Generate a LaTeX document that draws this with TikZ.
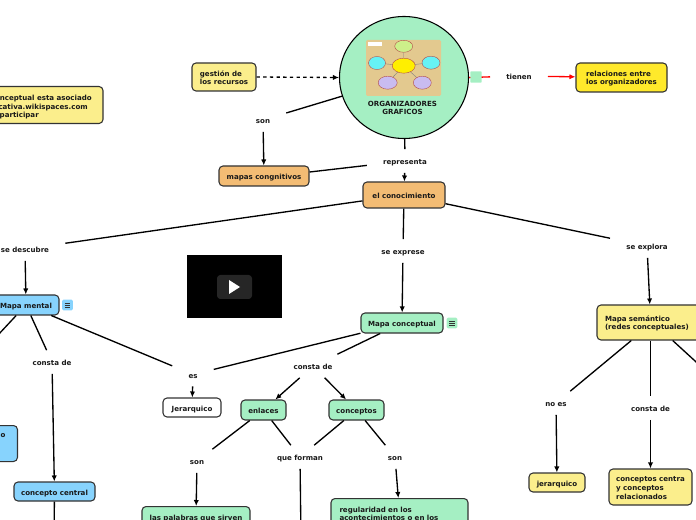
\documentclass[tikz,border=0pt]{standalone}
\usepackage{fontspec}
\setmainfont{DejaVu Sans}
\usetikzlibrary{arrows.meta,shapes.geometric}
\definecolor{cyel}{HTML}{FBEE8C}
\definecolor{cbri}{HTML}{FFE92B}
\definecolor{cora}{HTML}{F3BC74}
\definecolor{cgre}{HTML}{A5EFC3}
\definecolor{cblu}{HTML}{87D3FD}
\definecolor{cdark}{HTML}{333333}
\definecolor{ctan}{HTML}{E3C98F}
\definecolor{cell1}{HTML}{CDF08A}
\definecolor{cell2}{HTML}{66F2F5}
\definecolor{cell3}{HTML}{FFEF00}
\definecolor{cell4}{HTML}{C9BCF0}
\newcommand{\firstl}{\rule{0pt}{5.5pt}}
\tikzset{
  txt/.style={font=\bfseries\fontsize{5.3}{6.5}\selectfont, text=black!90},
  one/.style={text height=7pt, text depth=1.3pt},
  bx/.style n args={2}{txt, draw=cdark, line width=0.8pt, rounded corners=3pt, inner xsep=0pt, inner ysep=0pt,
     minimum width=#1*0.75pt, minimum height=#2*0.75pt},
  lab/.style={txt, one, inner xsep=12pt, inner ysep=4.5pt},
  conn/.style={line width=1pt, black},
  arr/.style={conn, -{Latex[length=4.5pt,width=4pt]}},
  icon/.style={minimum size=8pt, inner sep=0pt, rounded corners=1pt},
  blob/.style={draw=red!40!gray, line width=0.3pt},
  cut/.style={txt, one, anchor=east, inner sep=0pt},
}
\newcommand{\menuicon}[1]{\draw[line width=0.45pt,cdark] ([xshift=-2pt,yshift=1.6pt]#1.center)--++(4pt,0) ([xshift=-2pt]#1.center)--++(4pt,0) ([xshift=-2pt,yshift=-1.6pt]#1.center)--++(4pt,0);}
\begin{document}
\begin{tikzpicture}[x=0.75pt,y=-0.75pt]
\useasboundingbox (0,0) rectangle (696,520);
\clip (0,0) rectangle (696,520);

% central topic
\node[ellipse, draw=black, fill=cgre, line width=0.8pt, minimum width=129*0.75pt, minimum height=122*0.75pt, inner sep=0pt] (org) at (404,77.5) {};
\fill[ctan, rounded corners=1pt] (366,40) rectangle (441,96);
\fill[white] (368,42) rectangle (382,46);
\draw[gray,line width=0.3pt] (403.7,65.7)--(377,63) (403.7,65.7)--(431,62.7) (403.7,65.7)--(387.7,82.7) (403.7,65.7)--(422.3,82.7) (403.7,65.7)--(403.7,46.3);
\filldraw[blob,fill=cell1] (403.7,46.3) ellipse (9 and 6);
\filldraw[blob,fill=cell2] (377,63) ellipse (8.5 and 6.5);
\filldraw[blob,fill=cell3] (403.7,65.7) ellipse (11.5 and 7.5);
\filldraw[blob,fill=cell2] (431,62.7) ellipse (9 and 6.5);
\filldraw[blob,fill=cell4] (387.7,82.7) ellipse (9.5 and 6.5);
\filldraw[blob,fill=cell4] (422.3,82.7) ellipse (9 and 6.5);
\node[txt, align=center] (orgt) at (402.5,107) {\firstl ORGANIZADORES\\GRAFICOS};

% boxes
\node[bx={64}{28}, fill=cyel, align=left] (gest) at (224,77) {\firstl gestión de\\los recursos};
\node[bx={91}{29}, fill=cbri, align=left] (rel) at (621.5,77.5) {\firstl relaciones entre\\los organizadores};
\node[bx={90}{20}, one, fill=cora] (mapc) at (264,176) {mapas congnitivos};
\node[bx={82}{26}, one, fill=cora] (con) at (404,195) {el conocimiento};
\node[bx={66}{20}, one, fill=cblu] (mm) at (26,305) {Mapa mental};
\node[bx={82}{20}, one, fill=cgre] (mcon) at (402,323) {Mapa conceptual};
\node[bx={112}{35}, fill=cyel, text width=72pt, inner xsep=6pt, align=left] (msem) at (653,322.5) {\firstl Mapa semántico\\(redes conceptuales)};
\node[bx={58}{19}, one, fill=white] (jer1) at (192,407.5) {Jerarquico};
\node[bx={45}{20}, one, fill=cgre] (enl) at (263.5,410) {enlaces};
\node[bx={55}{20}, one, fill=cgre] (cps) at (356.5,410) {conceptos};
\node[bx={81}{19}, one, fill=cblu] (cc) at (54.5,491.5) {concepto central};
\node[bx={56}{19}, one, fill=cyel] (jer2) at (557,482.5) {jerarquico};
\node[bx={83}{36}, fill=cyel, align=left] (cpr) at (650.5,487) {\firstl conceptos centra\\y conceptos\\relacionados};
\node[bx={108}{20}, one, fill=cgre, anchor=north] (pal) at (196,506) {las palabras que sirven};
\node[bx={137}{29}, fill=cgre, text width=90pt, inner xsep=6pt, align=left, anchor=north] (reg) at (399.5,498) {\firstl regularidad en los\\acontecimientos o en los};
\node[bx={48}{36}, fill=cblu, anchor=north east] (lft) at (18,425) {};
\node[txt, one] (lftt) at (3,434) {o};
\node[bx={143}{37}, fill=cyel] (note) at (31.5,105) {};
\node[cut] (n1) at (92,96.7) {conceptual esta asociado};
\node[cut] (n2) at (88,105.3) {cativa.wikispaces.com};
\node[cut] (n3) at (39,113.3) {participar};

% video
\node[fill=black, minimum width=95*0.75pt, minimum height=63*0.75pt, inner sep=0pt] (vid) at (234.5,286.5) {};
\fill[black!85!white, rounded corners=2.5pt] (217,275) rectangle (252,299);
\fill[white] (229,280) -- (240,287) -- (229,294) -- cycle;

% labels
\node[lab] (tie) at (519,76) {tienen};
\node[lab] (son1) at (263,120) {son};
\node[lab] (rep) at (405,161) {representa};
\node[lab] (sed) at (25,249) {se descubre};
\node[lab] (see) at (403,251) {se exprese};
\node[lab] (sex) at (647,246) {se explora};
\node[lab] (es) at (193,374.5) {es};
\node[lab] (cd1) at (52,362) {consta de};
\node[lab] (cd2) at (313,366) {consta de};
\node[lab] (cd3) at (650.5,408) {consta de};
\node[lab] (son2) at (197,461) {son};
\node[lab] (qf) at (300,457) {que forman};
\node[lab] (son3) at (395,457) {son};
\node[lab] (noes) at (556,403) {no es};

% free ends
\coordinate (e1) at (-30,365);
\coordinate (e2) at (54,540);
\coordinate (e3) at (301,540);
\coordinate (e4) at (718,382);

% connectors
\draw[conn, dash pattern=on 2.5pt off 2.5pt, -{Latex[length=4.5pt,width=4pt]}] (gest.east) -- (org.west);
\draw[conn, red] (org.east) -- (tie);
\node[fill=cgre, minimum size=8.5pt, inner sep=0pt, rounded corners=0.5pt] (sq) at (476,77) {};
\draw[arr, red] (tie) -- (rel);
\draw[conn] (org) -- (son1);
\draw[arr] (son1) -- (mapc);
\draw[conn] (mapc.5) -- (rep);
\draw[conn] (org) -- (rep);
\draw[arr] (rep) -- (con);
\draw[conn] (con) -- (sed);
\draw[conn] (con) -- (see);
\draw[conn] (con) -- (sex);
\draw[arr] (sed) -- (mm);
\draw[arr] (see) -- (mcon);
\draw[arr] (sex) -- (msem.100);
\draw[conn] (mm) -- (es);
\draw[conn] (mcon) -- (es);
\draw[arr] (es) -- (jer1);
\draw[conn] (mm) -- (cd1);
\draw[conn] (mm) -- (e1);
\draw[arr] (cd1) -- (cc);
\draw[conn] (cc) -- (e2);
\draw[conn] (mcon) -- (cd2);
\draw[arr] (cd2) -- (enl);
\draw[arr] (cd2) -- (cps);
\draw[conn] (enl) -- (son2);
\draw[arr] (son2) -- (pal);
\draw[conn] (enl) -- (qf);
\draw[conn] (cps) -- (qf);
\draw[conn] (qf) -- (e3);
\draw[conn] (cps) -- (son3);
\draw[arr] (son3) -- (reg);
\draw[conn] (msem) -- (noes);
\draw[arr] (noes) -- (jer2);
\draw[conn] (msem.south -| cd3) -- (cd3);
\draw[arr] (cd3) -- (cpr);
\draw[conn] (msem) -- (e4);

% note icons
\node[icon, fill=cblu] (ic1) at (67.5,305) {};
\menuicon{ic1}
\node[icon, fill=cgre] (ic2) at (452,323) {};
\menuicon{ic2}
\end{tikzpicture}
\end{document}
